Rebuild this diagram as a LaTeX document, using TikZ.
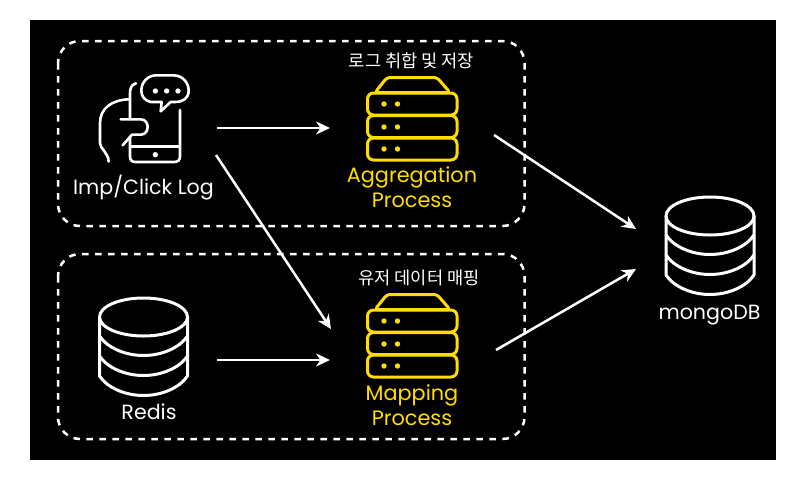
\documentclass[tikz,border=0pt]{standalone}
\usepackage{fontspec}
\setmainfont{Poppins}
\newfontfamily\krfont{Noto Sans CJK KR}
\usetikzlibrary{arrows.meta}
\definecolor{gold}{HTML}{FFDD00}
\tikzset{
  x=1pt,y=-1pt,
  wline/.style={draw=white,line width=2.6pt,line cap=round,line join=round},
  yline/.style={draw=gold,line width=3pt,line cap=round,line join=round},
  dashbox/.style={draw=white,line width=2.5pt,dash pattern=on 6.5pt off 6.5pt,rounded corners=22pt},
  flow/.style={draw=white,line width=2.5pt,-{Stealth[length=14pt,width=13pt]}},
  wlabel/.style={text=white,font=\fontsize{20.6}{24}\selectfont,align=center,inner sep=0pt},
  ylabel/.style={text=gold,font=\fontsize{20.8}{25}\selectfont,align=center,inner sep=0pt},
  krlabel/.style={text=white,font=\krfont\fontsize{17.6}{20}\selectfont,inner sep=0pt}
}
\newcommand{\dbicon}[2]{%
  \begin{scope}[shift={(#1,#2)}]
    \draw[wline,line width=3pt] (0,19) ellipse [x radius=44,y radius=19];
    \draw[wline,line width=3pt] (-44,19) -- (-44,78) .. controls (-36,90) and (-18,97.5) .. (0,97.5) .. controls (18,97.5) and (36,90) .. (44,78) -- (44,19);
    \draw[wline,line width=3pt] (-44,38) .. controls (-36,50) and (-18,57.5) .. (0,57.5) .. controls (18,57.5) and (36,50) .. (44,38);
    \draw[wline,line width=3pt] (-44,58) .. controls (-36,70) and (-18,77.5) .. (0,77.5) .. controls (18,77.5) and (36,70) .. (44,58);
  \end{scope}}
\newcommand{\srvicon}[2]{%
  \begin{scope}[shift={(#1,#2)}]
    \draw[yline,rounded corners=3pt] (-37,15.5) -- (-25,0.5) -- (25,0.5) -- (38,15.5) -- cycle;
    \draw[yline,rounded corners=6pt] (-44.5,16) rectangle (45,38);
    \draw[yline,rounded corners=6pt] (-44.5,38.5) rectangle (45,60.5);
    \draw[yline,rounded corners=6pt] (-44.5,61) rectangle (45,83);
    \foreach \yy in {27,50,72}{
      \fill[gold] (-28,\yy) circle (2.7);
      \fill[gold] (-14.5,\yy) circle (2.7);
    }
  \end{scope}}
\begin{document}
\begin{tikzpicture}
\useasboundingbox (0,0) rectangle (812,491);
\fill[white] (0,0) rectangle (812,491);
\fill[black] (30,20) rectangle (776,460);
\draw[dashbox] (58,41) rectangle (524.5,226);
\draw[dashbox] (58,254) rectangle (524.5,439);
% phone icon
\begin{scope}[shift={(50,30)},x=0.3333pt,y=-0.3333pt]
 \draw[wline] (258,160) .. controls (244,164) and (240,175) .. (240,190) -- (240,268);
 \draw[wline] (240,320) -- (240,380) .. controls (240,390) and (246,396) .. (256,396) -- (372,396) .. controls (384,396) and (390,390) .. (390,380) -- (390,240);
 \draw[wline] (244,350) -- (388,350);
 \fill[white] (316,374) circle (8);
 \draw[wline] (332,244) -- (335,216) -- (302,216) .. controls (285,212) and (274,200) .. (274,182) .. controls (274,155) and (295,136) .. (318,136) -- (370,136) .. controls (398,136) and (416,158) .. (416,182) .. controls (416,206) and (398,216) .. (375,216) -- (362,216) -- cycle;
 \fill[white] (316,183) circle (8);\fill[white] (350,183) circle (8);\fill[white] (384,183) circle (8);
 \draw[wline] (236,208) .. controls (185,210) and (150,235) .. (150,280) -- (150,340) .. controls (150,355) and (176,370) .. (176,395);
 \draw[wline] (212,268) -- (272,268) .. controls (300,268) and (300,314) .. (272,314) -- (246,314) -- (218,346);
\end{scope}
\node[wlabel] (imp) at (143.5,188) {Imp/Click Log};
\dbicon{143.5}{298}
\node[wlabel] (redis) at (149,412) {Redis};
\dbicon{710}{197}
\node[wlabel] (mongo) at (709.5,315) {mongoDB};
\srvicon{412}{77}
\srvicon{412}{294}
\node[ylabel] (agg) at (412,187) {Aggregation\\Process};
\node[ylabel] (map) at (412,405) {Mapping\\Process};
\node[krlabel] (t1) at (411.5,61) {로그 취합 및 저장};
\node[krlabel] (t2) at (419,278) {유저 데이터 매핑};
\coordinate (a1) at (217,128);\coordinate (a2) at (330,128);
\coordinate (b1) at (216,155);\coordinate (b2) at (331,329);
\coordinate (c1) at (217,360);\coordinate (c2) at (330,360);
\coordinate (d1) at (494,135);\coordinate (d2) at (636,229);
\coordinate (e1) at (496,350);\coordinate (e2) at (636,269);
\draw[flow] (a1)--(a2);
\draw[flow] (b1)--(b2);
\draw[flow] (c1)--(c2);
\draw[flow] (d1)--(d2);
\draw[flow] (e1)--(e2);
\end{tikzpicture}
\end{document}
